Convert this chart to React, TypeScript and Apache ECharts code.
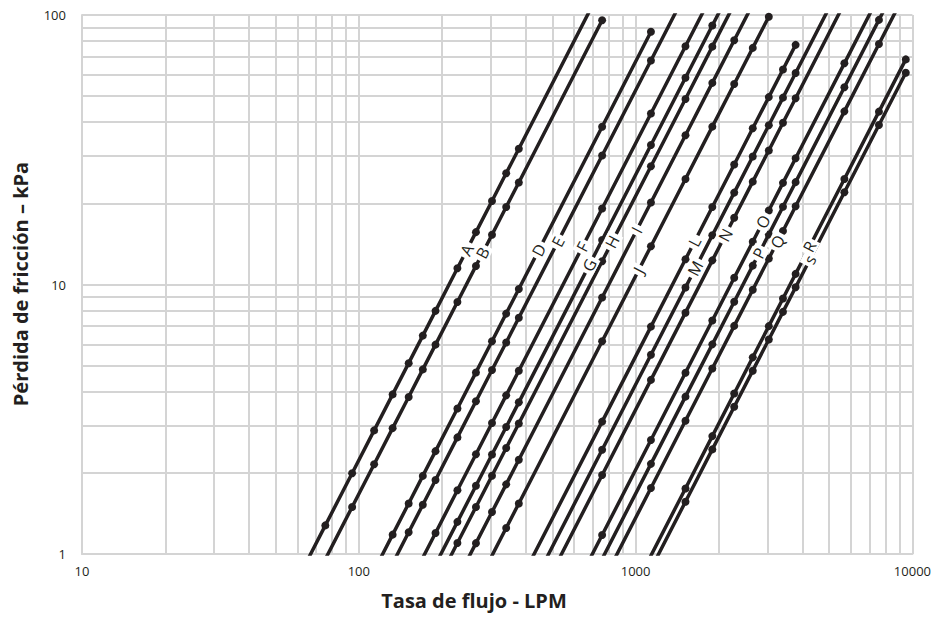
import React, { useEffect, useRef } from "react";
import * as echarts from "echarts";

// Axis ticks (log scale)
const xTickValues = [10, 100, 1000, 10000];
const yTickValues = [1, 10, 100];
const xMinorGrid = [20, 30, 40, 50, 60, 70, 80, 90, 200, 300, 400, 500, 600, 700, 800, 900, 2000, 3000, 4000, 5000, 6000, 7000, 8000, 9000];
const yMinorGrid = [2, 3, 4, 5, 6, 7, 8, 9, 20, 30, 40, 50, 60, 70, 80, 90];

// Each curve: [flow LPM, friction loss kPa] read at the dots
const lineA = [[56.8, 0.719], [75.7, 1.277], [94.6, 1.994], [113.6, 2.875], [132.5, 3.911], [151.4, 5.106], [170.3, 6.461], [189.3, 7.983], [227.1, 11.49], [265, 15.64], [302.8, 20.42], [340.7, 25.86], [378.5, 31.91], [757, 127.6]];
const lineB = [[75.7, 0.957], [94.6, 1.494], [113.6, 2.154], [132.5, 2.931], [151.4, 3.826], [170.3, 4.841], [189.3, 5.981], [227.1, 8.609], [265, 11.72], [302.8, 15.3], [340.7, 19.38], [378.5, 23.91], [757, 95.66]];
const lineD = [[113.6, 0.867], [132.5, 1.18], [151.4, 1.54], [170.3, 1.949], [189.3, 2.408], [227.1, 3.465], [265, 4.718], [302.8, 6.16], [340.7, 7.799], [378.5, 9.625], [757, 38.5], [1136, 86.7]];
const lineE = [[132.5, 0.922], [151.4, 1.204], [170.3, 1.523], [189.3, 1.882], [227.1, 2.708], [265, 3.688], [302.8, 4.814], [340.7, 6.095], [378.5, 7.523], [757, 30.09], [1136, 67.76], [1514, 120.4]];
const lineF = [[170.3, 0.969], [189.3, 1.197], [227.1, 1.723], [265, 2.346], [302.8, 3.063], [340.7, 3.878], [378.5, 4.787], [757, 19.15], [1136, 43.12], [1514, 76.59], [1893, 119.7]];
const lineG = [[189.3, 0.914], [227.1, 1.316], [265, 1.791], [302.8, 2.339], [340.7, 2.961], [378.5, 3.654], [757, 14.62], [1136, 32.92], [1514, 58.47], [1893, 91.4], [2271, 131.6]];
const lineH = [[189.3, 0.763], [227.1, 1.098], [265, 1.495], [302.8, 1.952], [340.7, 2.472], [378.5, 3.051], [757, 12.2], [1136, 27.48], [1514, 48.81], [1893, 76.31], [2271, 109.8]];
const lineI = [[227.1, 0.806], [265, 1.097], [302.8, 1.432], [340.7, 1.813], [378.5, 2.238], [757, 8.953], [1136, 20.16], [1514, 35.81], [1893, 55.98], [2271, 80.57], [2650, 109.7]];
const lineJ = [[265, 0.755], [302.8, 0.986], [340.7, 1.248], [378.5, 1.54], [757, 6.16], [1136, 13.87], [1514, 24.64], [1893, 38.52], [2271, 55.44], [2650, 75.49], [3028, 98.56]];
const lineL = [[378.5, 0.775], [757, 3.099], [1136, 6.979], [1514, 12.4], [1893, 19.38], [2271, 27.89], [2650, 37.98], [3028, 49.59], [3407, 62.78], [3785, 77.48]];
const lineM = [[378.5, 0.609], [757, 2.436], [1136, 5.486], [1514, 9.745], [1893, 15.23], [2271, 21.93], [2650, 29.85], [3028, 38.98], [3407, 49.35], [3785, 60.9], [5678, 137.1]];
const lineN = [[378.5, 0.491], [757, 1.965], [1136, 4.426], [1514, 7.861], [1893, 12.29], [2271, 17.69], [2650, 24.08], [3028, 31.44], [3407, 39.81], [3785, 49.13], [5678, 110.6]];
const lineO = [[378.5, 0.294], [757, 1.176], [1136, 2.649], [1514, 4.705], [1893, 7.355], [2271, 10.59], [2650, 14.41], [3028, 18.82], [3407, 23.83], [3785, 29.41], [5678, 66.17], [7570, 117.6]];
const lineP = [[378.5, 0.24], [757, 0.959], [1136, 2.16], [1514, 3.836], [1893, 5.997], [2271, 8.631], [2650, 11.75], [3028, 15.34], [3407, 19.43], [3785, 23.98], [5678, 53.95], [7570, 95.9], [9464, 149.9]];
const lineQ = [[757, 0.78], [1136, 1.757], [1514, 3.121], [1893, 4.879], [2271, 7.022], [2650, 9.561], [3028, 12.48], [3407, 15.8], [3785, 19.51], [5678, 43.9], [7570, 78.02], [9464, 121.9]];
const lineR = [[757, 0.438], [1136, 0.986], [1514, 1.751], [1893, 2.738], [2271, 3.941], [2650, 5.366], [3028, 7.006], [3407, 8.869], [3785, 10.95], [5678, 24.63], [7570, 43.79], [9464, 68.44]];
const lineS = [[1136, 0.88], [1514, 1.563], [1893, 2.444], [2271, 3.517], [2650, 4.789], [3028, 6.252], [3407, 7.915], [3785, 9.769], [5678, 21.98], [7570, 39.08], [9464, 61.07]];

const curveNames = ["A", "B", "D", "E", "F", "G", "H", "I", "J", "L", "M", "N", "O", "P", "Q", "R", "s"];
const curves = [lineA, lineB, lineD, lineE, lineF, lineG, lineH, lineI, lineJ, lineL, lineM, lineN, lineO, lineP, lineQ, lineR, lineS];
// friction loss (kPa) where each curve's letter sits
const labelLoss = [13.43, 13.09, 13.43, 14.41, 13.81, 11.81, 14.41, 15.93, 11.32, 14.41, 11.48, 15.26, 17.1, 13.06, 14.41, 13.81, 11.64];

const xTitle = "Tasa de flujo - LPM";
const yTitle = "Pérdida de fricción – kPa";

const INK = "#231f20";
const GRID = "#d4d4d4";
const FONT = "'Open Sans', 'Noto Sans', sans-serif";

function pointOnCurve(data: number[][], y: number): number[] {
  const ly = Math.log10(y);
  for (let i = 0; i < data.length - 1; i++) {
    const [x1, y1] = data[i];
    const [x2, y2] = data[i + 1];
    if (y >= y1 && y <= y2) {
      const t = (ly - Math.log10(y1)) / (Math.log10(y2) - Math.log10(y1));
      const lx = Math.log10(x1) + t * (Math.log10(x2) - Math.log10(x1));
      return [Math.pow(10, lx), y];
    }
  }
  return data[0];
}

export default function App() {
  const ref = useRef<HTMLDivElement>(null);
  useEffect(() => {
    if (!ref.current) return;
    const chart = echarts.init(ref.current, null, { renderer: "svg" });

    const lineSeries = curves.map((data, i) => ({
      type: "line",
      name: curveNames[i],
      data,
      clip: true,
      z: 10,
      symbol: "circle",
      symbolSize: 8,
      showSymbol: true,
      showAllSymbol: true,
      lineStyle: { color: INK, width: 3.5 },
      itemStyle: { color: INK, borderWidth: 0, borderColor: INK },
      emphasis: { disabled: true },
      silent: true,
    }));

    const labelSeries = {
      type: "scatter",
      z: 12,
      symbol: "circle",
      symbolSize: 1,
      itemStyle: { color: "rgba(0,0,0,0)", borderWidth: 0 },
      silent: true,
      data: curves.map((data, i) => ({
        value: pointOnCurve(data, labelLoss[i]),
        label: curveNames[i] === "s"
          ? { formatter: curveNames[i], offset: [8, 0] }
          : { formatter: curveNames[i] },
      })),
      label: {
        show: true,
        position: "inside",
        rotate: 62.5,
        backgroundColor: "#ffffff",
        padding: [0, 3, 0, 3],
        fontSize: 16,
        fontFamily: FONT,
        color: INK,
        opacity: 1,
      },
    };

    const gridSeries = {
      type: "line",
      z: 1,
      data: [[10, 1]],
      showSymbol: false,
      lineStyle: { opacity: 0 },
      silent: true,
      markLine: {
        z: 1,
        silent: true,
        symbol: ["none", "none"],
        label: { show: false },
        lineStyle: { color: GRID, width: 2, type: "solid" },
        emphasis: { disabled: true },
        data: [
          ...xMinorGrid.map((v) => ({ xAxis: v })),
          ...yMinorGrid.map((v) => ({ yAxis: v })),
        ],
      },
    };

    chart.setOption({
      animation: false,
      backgroundColor: "#ffffff",
      grid: { left: 82, right: 12, top: 15, bottom: 71, containLabel: false },
      xAxis: {
        type: "log",
        logBase: 10,
        min: xTickValues[0],
        max: xTickValues[xTickValues.length - 1],
        axisLine: { show: true, lineStyle: { color: GRID, width: 2 } },
        axisTick: { show: false },
        axisLabel: {
          color: INK,
          fontSize: 13,
          fontFamily: FONT,
          margin: 10,
          formatter: (v: number) => String(Math.round(v)),
        },
        splitLine: { show: true, lineStyle: { color: GRID, width: 2 } },
      },
      yAxis: {
        type: "log",
        logBase: 10,
        min: yTickValues[0],
        max: yTickValues[yTickValues.length - 1],
        axisLine: { show: true, lineStyle: { color: GRID, width: 2 } },
        axisTick: { show: false },
        axisLabel: {
          color: INK,
          fontSize: 13,
          fontFamily: FONT,
          margin: 16,
          formatter: (v: number) => String(Math.round(v)),
        },
        splitLine: { show: true, lineStyle: { color: GRID, width: 2 } },
      },
      graphic: [
        {
          type: "text",
          x: 474,
          y: 600,
          style: {
            text: xTitle,
            fill: INK,
            font: `bold 20px ${FONT}`,
            textAlign: "center",
            textVerticalAlign: "middle",
          },
        },
        {
          type: "text",
          x: 20,
          y: 284,
          rotation: Math.PI / 2,
          style: {
            text: yTitle,
            fill: INK,
            font: `bold 20px ${FONT}`,
            textAlign: "center",
            textVerticalAlign: "middle",
          },
        },
      ],
      series: [gridSeries, ...lineSeries, labelSeries],
    });
    return () => chart.dispose();
  }, []);

  return (
    <div
      ref={ref}
      style={{ position: "fixed", left: 0, top: 0, width: 934, height: 625, background: "#fff" }}
    />
  );
}
